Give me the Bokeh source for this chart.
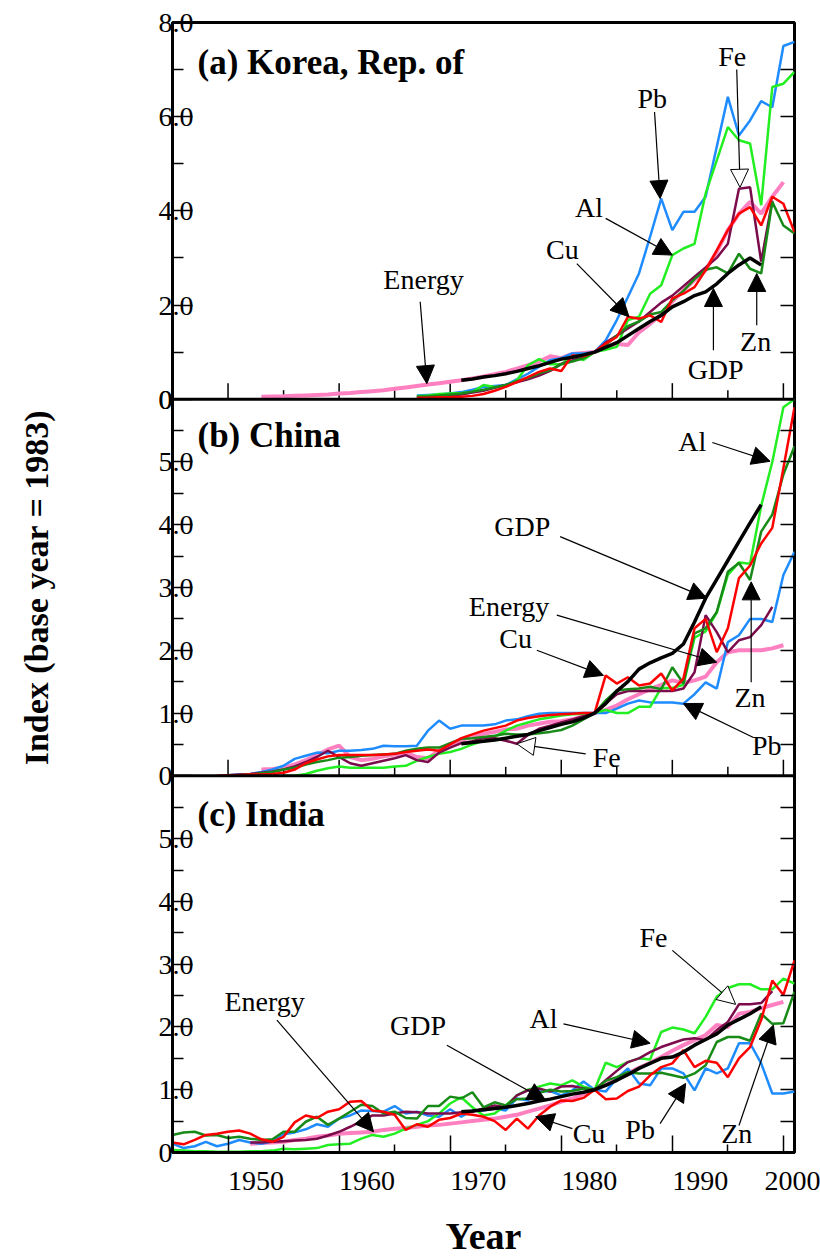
import math
from bokeh.plotting import figure
from bokeh.models import Range1d, LinearAxis, FixedTicker, Label, Arrow, NormalHead, Span
from bokeh.embed import file_html
from bokeh.resources import INLINE

FONT = "Liberation Serif"
NB = "\u00a0"

# ---------------- data: index, base year 1983 = 1.0 ----------------
# (a) Korea, Rep. of
KOR_ENERGY_START = 1953
KOR_ENERGY = [0.05, 0.055, 0.06, 0.07, 0.08, 0.09, 0.10, 0.12, 0.13, 0.15,
              0.17, 0.19, 0.22, 0.25, 0.28, 0.31, 0.34, 0.37, 0.40, 0.44,
              0.48, 0.53, 0.58, 0.65, 0.72, 0.80, 0.91, 0.87, 0.96, 0.98,
              1.0, 1.1, 1.17, 1.15, 1.42, 1.6, 1.8, 2.07, 2.31, 2.53,
              2.74, 3.13, 3.59, 3.94, 4.19, 3.94, 4.3, 4.61]
KOR_GDP_START = 1971
KOR_GDP = [0.40, 0.43, 0.47, 0.50, 0.54, 0.59, 0.65, 0.71, 0.78, 0.85,
           0.89, 0.94, 1.0, 1.1, 1.2, 1.35, 1.5, 1.65, 1.78, 1.96,
           2.07, 2.2, 2.28, 2.45, 2.67, 2.85, 3.0, 2.85]
KOR_PB_START = 1967
KOR_PB = [0.08, 0.09, 0.10, 0.12, 0.15, 0.2, 0.26, 0.28, 0.30, 0.42,
          0.54, 0.69, 0.83, 0.87, 0.97, 0.97, 1.0, 1.25, 1.68, 2.17,
          2.67, 3.45, 4.26, 3.59, 3.98, 3.98, 4.3, 5.36, 6.42, 5.6,
          5.92, 6.33, 6.2, 7.5, 7.59]
KOR_AL_START = 1967
KOR_AL = [0.06, 0.08, 0.11, 0.12, 0.13, 0.15, 0.30, 0.26, 0.27, 0.40,
          0.72, 0.85, 0.74, 0.74, 0.91, 0.83, 1.0, 1.05, 1.11, 1.68,
          1.75, 2.24, 2.42, 3.06, 3.2, 3.3, 4.37, 5.07, 5.78, 5.5,
          5.43, 4.12, 6.63, 6.7, 6.95]
KOR_CU_START = 1967
KOR_CU = [0.03, 0.03, 0.04, 0.04, 0.05, 0.07, 0.11, 0.18, 0.26, 0.36,
          0.47, 0.58, 0.65, 0.6, 0.93, 0.91, 1.0, 1.18, 1.32, 1.75,
          1.71, 1.78, 1.64, 2.14, 2.24, 2.38, 2.74, 3.16, 3.59, 3.94,
          4.08, 3.69, 4.3, 4.15, 3.55]
KOR_ZN_START = 1967
KOR_ZN = [0.05, 0.06, 0.08, 0.10, 0.12, 0.16, 0.2, 0.25, 0.3, 0.38,
          0.45, 0.55, 0.62, 0.74, 0.8, 0.87, 1.0, 1.15, 1.35, 1.55,
          1.65, 1.8, 1.85, 2.1, 2.3, 2.55, 2.75, 2.8, 2.67, 3.09,
          2.77, 2.67, 4.19, 3.69, 3.52]
KOR_FE_START = 1967
KOR_FE = [0.03, 0.04, 0.05, 0.07, 0.1, 0.14, 0.18, 0.24, 0.3, 0.36,
          0.42, 0.5, 0.6, 0.75, 0.82, 0.9, 1.0, 1.2, 1.35, 1.5,
          1.65, 1.85, 2.05, 2.2, 2.4, 2.6, 2.8, 3.0, 3.3, 4.47,
          4.5, 2.92, 4.22]

# (b) China
CHN_ENERGY_START = 1953
CHN_ENERGY = [0.1, 0.11, 0.13, 0.18, 0.25, 0.33, 0.42, 0.48, 0.3, 0.25,
              0.27, 0.31, 0.34, 0.37, 0.3, 0.28, 0.4, 0.5, 0.57, 0.63,
              0.67, 0.7, 0.74, 0.75, 0.8, 0.83, 0.86, 0.87, 0.9, 0.95,
              1.0, 1.05, 1.12, 1.22, 1.3, 1.38, 1.45, 1.52, 1.48, 1.52,
              1.58, 1.81, 1.97, 2.0, 2.0, 2.0, 2.03, 2.08]
CHN_GDP_START = 1971
CHN_GDP = [0.51, 0.53, 0.55, 0.57, 0.6, 0.63, 0.66, 0.72, 0.77, 0.82,
           0.86, 0.92, 1.0, 1.15, 1.35, 1.5, 1.7, 1.8, 1.88, 1.95,
           2.1, 2.45, 2.83, 3.13, 3.43, 3.73, 4.03, 4.32]
CHN_PB_START = 1950
CHN_PB = [0.01, 0.02, 0.03, 0.06, 0.1, 0.16, 0.27, 0.32, 0.37, 0.36,
          0.4, 0.4, 0.41, 0.43, 0.48, 0.47, 0.47, 0.48, 0.72, 0.88,
          0.75, 0.8, 0.8, 0.8, 0.82, 0.88, 0.9, 0.95, 0.99, 1.0,
          1.0, 1.0, 1.0, 1.0, 1.0, 1.07, 1.15, 1.2, 1.17, 1.17,
          1.17, 1.15, 1.3, 1.49, 1.39, 2.13, 2.24, 2.5, 2.5, 2.45,
          3.2, 3.57]
CHN_AL_START = 1955
CHN_AL = [0.0, 0.0, 0.03, 0.08, 0.12, 0.15, 0.13, 0.13, 0.13, 0.13,
          0.15, 0.16, 0.24, 0.3, 0.35, 0.38, 0.43, 0.5, 0.56, 0.62,
          0.72, 0.8, 0.85, 0.9, 0.93, 0.96, 0.98, 0.99, 1.0, 1.05,
          1.0, 1.0, 1.1, 1.1, 1.4, 1.4, 1.45, 2.2, 2.3, 2.6,
          3.2, 3.4, 3.38, 4.3, 5.0, 5.87, 6.0]
CHN_CU_START = 1949
CHN_CU = [0.0, 0.01, 0.01, 0.02, 0.02, 0.03, 0.05, 0.1, 0.2, 0.26,
          0.31, 0.33, 0.33, 0.33, 0.33, 0.34, 0.35, 0.38, 0.4, 0.42,
          0.4, 0.5, 0.6, 0.66, 0.72, 0.76, 0.8, 0.88, 0.92, 0.95,
          0.97, 0.98, 0.99, 1.0, 1.0, 1.6, 1.47, 1.57, 1.44, 1.47,
          1.63, 1.36, 1.55, 2.35, 2.5, 1.97, 2.35, 3.15, 3.35, 3.7,
          3.95, 4.9, 5.87]
CHN_ZN_START = 1950
CHN_ZN = [0.01, 0.01, 0.02, 0.04, 0.06, 0.1, 0.13, 0.18, 0.22, 0.25,
          0.29, 0.3, 0.32, 0.33, 0.34, 0.35, 0.4, 0.43, 0.45, 0.45,
          0.52, 0.59, 0.6, 0.62, 0.64, 0.67, 0.66, 0.66, 0.68, 0.7,
          0.73, 0.8, 0.9, 1.0, 1.2, 1.36, 1.38, 1.39, 1.42, 1.38,
          1.73, 1.47, 2.27, 2.35, 2.61, 3.25, 3.39, 3.12, 3.89, 4.16,
          4.8, 5.25]
CHN_FE_START = 1950
CHN_FE = [0.01, 0.02, 0.03, 0.05, 0.07, 0.1, 0.15, 0.22, 0.3, 0.4,
          0.3, 0.2, 0.16, 0.2, 0.24, 0.28, 0.33, 0.25, 0.22, 0.37,
          0.45, 0.52, 0.55, 0.6, 0.6, 0.56, 0.51, 0.65, 0.75, 0.8,
          0.85, 0.9, 0.95, 1.0, 1.15, 1.3, 1.35, 1.35, 1.35, 1.35,
          1.35, 1.39, 1.65, 2.56, 2.29, 1.97, 2.16, 2.21, 2.4, 2.69]

# (c) India
IND_ENERGY_START = 1952
IND_ENERGY = [0.14, 0.15, 0.16, 0.17, 0.2, 0.22, 0.25, 0.27,
              0.3, 0.31, 0.32, 0.33, 0.36, 0.38, 0.39, 0.41, 0.43, 0.44,
              0.46, 0.48, 0.5, 0.52, 0.54, 0.57, 0.6, 0.65, 0.7, 0.75,
              0.81, 0.86, 0.93, 1.0, 1.08, 1.16, 1.26, 1.35, 1.43, 1.52,
              1.62, 1.71, 1.79, 1.87, 2.03, 2.0, 2.21, 2.24, 2.3, 2.35,
              2.4]
IND_GDP_START = 1971
IND_GDP = [0.65, 0.66, 0.68, 0.7, 0.72, 0.75, 0.78, 0.82, 0.85, 0.89,
           0.93, 0.96, 1.0, 1.07, 1.15, 1.24, 1.34, 1.42, 1.5, 1.52,
           1.6, 1.71, 1.8, 1.89, 2.03, 2.12, 2.21, 2.32]
IND_PB_START = 1945
IND_PB = [0.14, 0.07, 0.1, 0.17, 0.1,
          0.14, 0.2, 0.16, 0.14, 0.18, 0.29, 0.32, 0.37, 0.45, 0.41,
          0.54, 0.59, 0.67, 0.66, 0.65, 0.74, 0.62, 0.65, 0.59, 0.57,
          0.69, 0.57, 0.67, 0.67, 0.7, 0.67, 0.86, 0.83, 0.97, 0.98,
          0.91, 0.99, 1.13, 1.0, 0.97, 1.18, 1.34, 1.1, 1.07, 1.34,
          1.34, 1.26, 0.99, 1.34, 1.26, 1.34, 1.74, 1.74, 1.42, 0.94,
          0.94, 0.97]
IND_AL_START = 1945
IND_AL = [0.04, 0.03, 0.02, 0.02, 0.01,
          0.01, 0.01, 0.02, 0.02, 0.03, 0.06, 0.05, 0.06, 0.07, 0.12,
          0.13, 0.14, 0.22, 0.28, 0.25, 0.3, 0.38, 0.44, 0.5, 0.62,
          0.78, 0.88, 0.72, 0.59, 0.62, 0.75, 0.91, 1.0, 1.05, 1.1,
          1.07, 1.15, 1.05, 1.0, 1.43, 1.36, 1.44, 1.5, 1.48, 1.92,
          1.99, 1.96, 1.9, 2.16, 2.48, 2.62, 2.68, 2.68, 2.6, 2.6,
          2.77, 2.69]
IND_CU_START = 1945
IND_CU = [0.16, 0.13, 0.2, 0.28, 0.3,
          0.33, 0.35, 0.3, 0.21, 0.17, 0.25, 0.48, 0.59, 0.55, 0.65,
          0.69, 0.81, 0.82, 0.67, 0.65, 0.6, 0.36, 0.45, 0.41, 0.52,
          0.55, 0.62, 0.6, 0.57, 0.5, 0.36, 0.54, 0.38, 0.59, 0.73,
          0.83, 0.82, 0.87, 1.0, 0.85, 0.86, 0.98, 1.05, 1.23, 1.36,
          1.42, 1.63, 1.36, 1.46, 1.43, 1.2, 1.5, 1.68, 2.11, 2.74,
          2.51, 3.06]
IND_ZN_START = 1945
IND_ZN = [0.28, 0.32, 0.33, 0.27, 0.28,
          0.23, 0.25, 0.22, 0.2, 0.21, 0.33, 0.33, 0.49, 0.57, 0.44,
          0.54, 0.65, 0.76, 0.74, 0.62, 0.65, 0.55, 0.54, 0.74, 0.74,
          0.89, 0.86, 0.96, 0.72, 0.8, 0.75, 0.85, 0.86, 0.95, 1.0,
          0.97, 0.98, 1.02, 1.0, 1.14, 1.2, 1.28, 1.26, 1.26, 1.27,
          1.23, 1.19, 1.26, 1.39, 1.76, 1.84, 1.84, 1.78, 2.21, 2.05,
          2.06, 2.56]
IND_FE_START = 1952
IND_FE = [0.16, 0.16, 0.17, 0.18, 0.19, 0.2, 0.22, 0.27,
          0.33, 0.41, 0.5, 0.59, 0.59, 0.62, 0.65, 0.64, 0.62, 0.62,
          0.62, 0.64, 0.65, 0.7, 0.75, 0.72, 0.91, 0.99, 1.02, 0.97,
          1.05, 1.06, 1.02, 1.0, 1.15, 1.3, 1.44, 1.5, 1.6, 1.68,
          1.74, 1.8, 1.82, 1.79, 1.95, 2.08, 2.36, 2.36, 2.38, 2.57]

TICK_YEARS = [1950, 1960, 1970, 1980, 1990, 2000]
MINOR_YEARS = [1955, 1965, 1975, 1985, 1995]
Y_TICKS_A = [0, 2, 4, 6, 8]
Y_MINOR_A = [1, 3, 5, 7]
Y_RIGHT_A = [1, 2, 3, 4, 5, 6, 7]
Y_TICKS_BC = [0, 1, 2, 3, 4, 5]
Y_MINOR_BC = [0.5, 1.5, 2.5, 3.5, 4.5, 5.5]
Y_RIGHT_BC = [0.5, 1, 1.5, 2, 2.5, 3, 3.5, 4, 4.5, 5, 5.5]

# ---------------- styling ----------------
COLORS = {"Energy": "#ff80c0", "Pb": "#1e8cff", "Al": "#22ee22", "Fe": "#7c0b4c",
          "Zn": "#178a17", "Cu": "#ff0000", "GDP": "#000000"}
WIDTHS = {"Energy": 4, "Pb": 2.5, "Al": 2.5, "Fe": 2.5, "Zn": 2.5, "Cu": 2.5, "GDP": 3.5}
DRAW_ORDER = ["Energy", "Pb", "Al", "Fe", "Zn", "Cu", "GDP"]

# Each panel gets its own y scale on one shared frame: default-range position = offset + value*scale
PANEL_MAP = {"a": (12.0, 0.75), "b": (6.0, 1.0), "c": (0.0, 1.0)}
Y_TOTAL = 18.0
X_START, X_END = 1945, 2001

p = figure(width=820, height=1259, x_range=Range1d(X_START, X_END), y_range=Range1d(0, Y_TOTAL),
           toolbar_location=None, output_backend="svg",
           min_border_left=172, min_border_right=26, min_border_top=22, min_border_bottom=105)
p.extra_y_ranges = {k: Range1d((0 - off) / sc, (Y_TOTAL - off) / sc)
                    for k, (off, sc) in PANEL_MAP.items()}
p.xgrid.visible = False
p.ygrid.visible = False
p.outline_line_color = "black"
p.outline_line_width = 3
p.background_fill_color = "white"
p.border_fill_color = "white"


def pos(panel, v):
    off, sc = PANEL_MAP[panel]
    return off + v * sc


def zero_label(s):
    return "0" + NB * 3 if s == "0" else s


# ---- left axis: ticks/labels of all three panels on one axis ----
major, minor, right, overrides = [], [], [], {}
for panel, ticks, mins, rts in [("c", Y_TICKS_BC, Y_MINOR_BC, Y_RIGHT_BC),
                                ("b", Y_TICKS_BC, Y_MINOR_BC, Y_RIGHT_BC),
                                ("a", Y_TICKS_A, Y_MINOR_A, Y_RIGHT_A)]:
    for t in ticks:
        ps = pos(panel, t)
        if ps not in major:
            major.append(ps)
        overrides[ps] = zero_label("0" if t == 0 else f"{t:.1f}")
    minor += [pos(panel, t) for t in mins]
    right += [pos(panel, t) for t in rts]
major.append(pos("b", 6))
overrides[pos("b", 6)] = zero_label("0")

ya = p.yaxis[0]
ya.ticker = FixedTicker(ticks=major, minor_ticks=minor)
ya.major_label_overrides = overrides
ya.major_tick_in = 20
ya.major_tick_out = 0
ya.minor_tick_in = 11
ya.minor_tick_out = 0
ya.major_tick_line_width = 1.5
ya.minor_tick_line_width = 1.5
ya.axis_line_width = 3
ya.major_label_standoff = -21
ya.major_label_text_font = FONT
ya.major_label_text_font_size = "28px"
ya.major_label_text_color = "black"
ya.axis_label = "Index (base year = 1983)"
ya.axis_label_text_font = FONT
ya.axis_label_text_font_size = "34px"
ya.axis_label_text_font_style = "bold"
ya.axis_label_text_color = "black"
ya.axis_label_standoff = 101

ra = LinearAxis(ticker=FixedTicker(ticks=right, minor_ticks=[]),
                major_tick_in=14, major_tick_out=0, minor_tick_in=0, minor_tick_out=0,
                major_tick_line_width=1.5, axis_line_color=None,
                major_label_text_color=None)
p.add_layout(ra, "right")

# ---- bottom axis ----
xa = p.xaxis[0]
xa.ticker = FixedTicker(ticks=TICK_YEARS, minor_ticks=MINOR_YEARS)
xa.major_tick_in = 17
xa.major_tick_out = 0
xa.minor_tick_in = 8
xa.minor_tick_out = 0
xa.major_tick_line_width = 1.5
xa.minor_tick_line_width = 1.5
xa.axis_line_width = 3
xa.major_label_text_color = "black"
xa.major_label_text_font = FONT
xa.major_label_text_font_size = "28px"
xa.major_label_standoff = 12
xa.major_label_overrides = {y: NB * 8 + str(y) for y in TICK_YEARS}
xa.axis_label = "Year"
xa.axis_label_text_font = FONT
xa.axis_label_text_font_size = "38px"
xa.axis_label_text_font_style = "bold"
xa.axis_label_text_color = "black"
xa.axis_label_standoff = 16

# ---- panel separators with their own upward tick marks ----
for panel in ["a", "b"]:
    p.add_layout(Span(location=0, dimension="width", y_range_name=panel,
                      line_color="black", line_width=3))
    p.ray(x=TICK_YEARS, y=[0] * len(TICK_YEARS), length=16, angle=math.pi / 2,
          length_units="screen", y_range_name=panel, line_color="black", line_width=1.5)
    p.ray(x=MINOR_YEARS, y=[0] * len(MINOR_YEARS), length=9, angle=math.pi / 2,
          length_units="screen", y_range_name=panel, line_color="black", line_width=1.5)

KOR = {"Energy": (KOR_ENERGY_START, KOR_ENERGY), "GDP": (KOR_GDP_START, KOR_GDP),
       "Pb": (KOR_PB_START, KOR_PB), "Al": (KOR_AL_START, KOR_AL),
       "Cu": (KOR_CU_START, KOR_CU), "Zn": (KOR_ZN_START, KOR_ZN), "Fe": (KOR_FE_START, KOR_FE)}
CHN = {"Energy": (CHN_ENERGY_START, CHN_ENERGY), "GDP": (CHN_GDP_START, CHN_GDP),
       "Pb": (CHN_PB_START, CHN_PB), "Al": (CHN_AL_START, CHN_AL),
       "Cu": (CHN_CU_START, CHN_CU), "Zn": (CHN_ZN_START, CHN_ZN), "Fe": (CHN_FE_START, CHN_FE)}
IND = {"Energy": (IND_ENERGY_START, IND_ENERGY), "GDP": (IND_GDP_START, IND_GDP),
       "Pb": (IND_PB_START, IND_PB), "Al": (IND_AL_START, IND_AL),
       "Cu": (IND_CU_START, IND_CU), "Zn": (IND_ZN_START, IND_ZN), "Fe": (IND_FE_START, IND_FE)}

NOTES_A = [("Fe", 1995.4, 7.27, 1995.8, 7.0, 1996.1, 4.5, True),
           ("Pb", 1988.2, 6.38, 1988.4, 6.1, 1988.9, 4.26, False),
           ("Al", 1982.5, 4.08, 1984.0, 3.84, 1990.0, 3.06, False),
           ("Cu", 1980.1, 3.18, 1981.4, 2.88, 1986.1, 1.75, False),
           ("Energy", 1967.6, 2.54, 1967.3, 2.07, 1967.9, 0.33, False),
           ("GDP", 1993.9, 0.62, 1993.7, 1.04, 1993.7, 2.35, False),
           ("Zn", 1997.5, 1.22, 1997.6, 1.57, 1997.6, 2.67, False)]
NOTES_B = [("Al", 1991.8, 5.33, 1993.6, 5.31, 1998.8, 5.01, False),
           ("GDP", 1976.5, 3.97, 1979.9, 3.81, 1993.1, 2.83, False),
           ("Energy", 1975.3, 2.69, 1979.6, 2.56, 1994.0, 1.81, False),
           ("Cu", 1975.9, 2.19, 1977.8, 2.0, 1983.8, 1.6, False),
           ("Zn", 1997.0, 1.25, 1997.1, 1.49, 1997.1, 3.09, False),
           ("Pb", 1998.5, 0.48, 1997.3, 0.61, 1991.0, 1.15, False),
           ("Fe", 1984.1, 0.29, 1982.2, 0.35, 1976.0, 0.51, True)]
NOTES_C = [("Energy", 1953.3, 2.4, 1954.4, 2.11, 1963.1, 0.33, False),
           ("GDP", 1967.1, 2.03, 1969.7, 1.71, 1978.6, 0.83, False),
           ("Al", 1978.4, 2.13, 1980.2, 2.05, 1988.0, 1.74, False),
           ("Fe", 1988.3, 3.43, 1990.0, 3.22, 1995.7, 2.36, True),
           ("Cu", 1982.5, 0.3, 1981.0, 0.38, 1977.7, 0.57, False),
           ("Pb", 1987.1, 0.36, 1988.9, 0.46, 1991.2, 1.1, False),
           ("Zn", 1995.8, 0.3, 1996.0, 0.43, 1999.1, 2.03, False)]

PANELS = [("a", KOR, "(a) Korea, Rep. of", 7.15, NOTES_A),
          ("b", CHN, "(b) China", 5.42, NOTES_B),
          ("c", IND, "(c) India", 5.38, NOTES_C)]

for rng, series, title, title_y, notes in PANELS:
    for name in DRAW_ORDER:
        start, vals = series[name]
        yrs = list(range(start, start + len(vals)))
        p.line(yrs, vals, y_range_name=rng, line_color=COLORS[name], line_width=WIDTHS[name])
    p.add_layout(Label(x=1947.25, y=title_y, y_range_name=rng, text=title, text_font=FONT,
                       text_font_size="35px", text_font_style="bold",
                       text_align="left", text_baseline="middle", text_color="black"))
    for (t, tx, ty, x0, y0, x1, y1, hollow) in notes:
        p.add_layout(Label(x=tx, y=ty, y_range_name=rng, text=t, text_font=FONT,
                           text_font_size="28px", text_align="center",
                           text_baseline="middle", text_color="black"))
        head = NormalHead(size=18, fill_color="white" if hollow else "black",
                          line_color="black", line_width=1)
        p.add_layout(Arrow(end=head, x_start=x0, y_start=y0, x_end=x1, y_end=y1,
                           y_range_name=rng, line_color="black", line_width=1.2))

open("out.html", "w").write(file_html(p, INLINE, "Index"))
